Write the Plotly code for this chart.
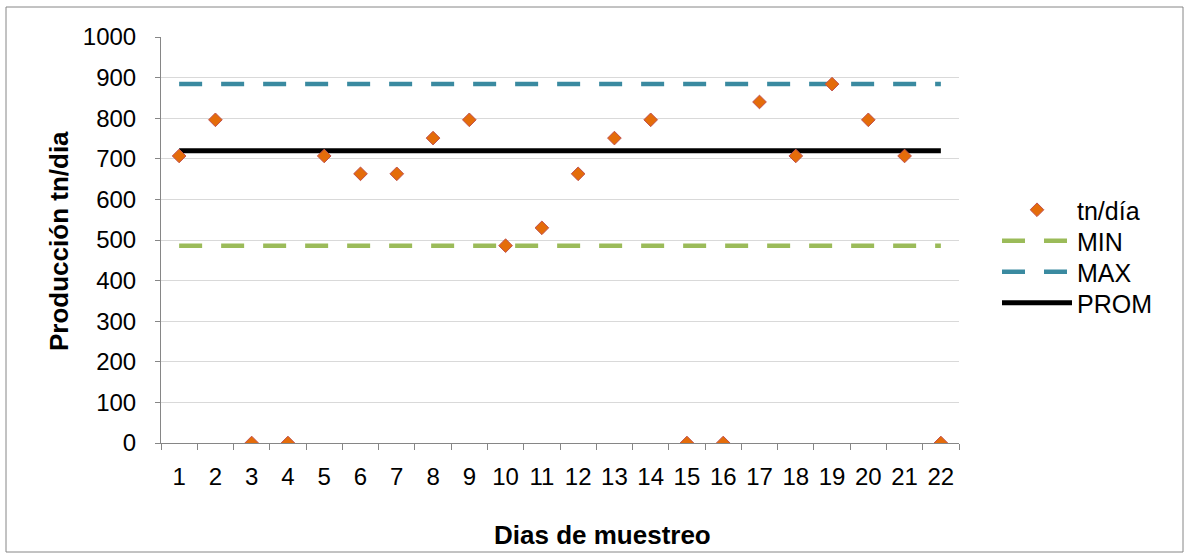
import plotly.graph_objects as go

# Daily production samples (tn/día) over 22 sampling days
dias = [str(d) for d in range(1, 23)]
produccion = [707, 796, 0, 0, 707, 663, 663, 751, 796, 486, 530,
              663, 751, 796, 0, 0, 840, 707, 884, 796, 707, 0]
valor_min = 486
valor_max = 884
valor_prom = 720
y_ticks = [0, 100, 200, 300, 400, 500, 600, 700, 800, 900, 1000]

FONT = "Liberation Sans, Arial, sans-serif"
TICK_SIZE = 24
LEGEND_SIZE = 25
TITLE_SIZE = 26

L, R, T, B = 161, 225, 37, 115
W, H = 1184, 558
pw, ph = W - L - R, H - T - B


def px_x(x):
    return (x - L) / pw


def px_y(y):
    return (H - B - y) / ph


DASH = "23px,19px"

fig = go.Figure()

fig.add_trace(go.Scatter(
    x=dias, y=[valor_min] * len(dias), mode="lines", name="MIN",
    line=dict(color="#9BBB59", width=4.5, dash=DASH), legend="legend2"))
fig.add_trace(go.Scatter(
    x=dias, y=[valor_max] * len(dias), mode="lines", name="MAX",
    line=dict(color="#3A8AA0", width=4.5, dash=DASH), legend="legend3"))
fig.add_trace(go.Scatter(
    x=dias, y=[valor_prom] * len(dias), mode="lines", name="PROM",
    line=dict(color="#000000", width=5), legend="legend4"))
fig.add_trace(go.Scatter(
    x=dias, y=produccion, mode="markers", name="tn/día",
    marker=dict(symbol="diamond", size=10.5, color="#E46C0A",
                line=dict(color="#C0504D", width=1)), legend="legend"))


def legend_box(row_y):
    return dict(x=px_x(997), y=px_y(row_y), xanchor="left", yanchor="middle",
                font=dict(family=FONT, size=LEGEND_SIZE, color="#000000"),
                itemwidth=70, bgcolor="rgba(0,0,0,0)", borderwidth=0)


fig.update_layout(
    width=W, height=H,
    margin=dict(l=L, r=R, t=T, b=B),
    paper_bgcolor="white", plot_bgcolor="white",
    font=dict(family=FONT, size=TICK_SIZE, color="#000000"),
    showlegend=True,
    legend=legend_box(210),
    legend2=legend_box(241),
    legend3=legend_box(272),
    legend4=legend_box(303),
    xaxis=dict(type="category", tickson="boundaries", ticks="outside",
               ticklen=6, tickcolor="#868686", showline=True,
               linecolor="#868686", linewidth=1, showgrid=False,
               zeroline=False, range=[-0.5, 21.5],
               tickfont=dict(family=FONT, size=TICK_SIZE),
               ticklabelstandoff=12),
    yaxis=dict(range=[0, 1000], tickvals=y_ticks, ticks="outside",
               ticklen=5, tickcolor="#868686", showline=True,
               linecolor="#868686", linewidth=1, showgrid=True,
               gridcolor="#D9D9D9", gridwidth=1, zeroline=False,
               tickfont=dict(family=FONT, size=TICK_SIZE),
               ticklabelstandoff=14),
    shapes=[dict(type="rect", xref="paper", yref="paper",
                 x0=px_x(6), x1=px_x(1183), y0=px_y(552), y1=px_y(7),
                 line=dict(color="#868686", width=1), layer="below")],
    annotations=[
        dict(text="<b>Producción tn/dia</b>", xref="paper", yref="paper",
             x=px_x(59), y=px_y(241), textangle=-90, showarrow=False,
             xanchor="center", yanchor="middle",
             font=dict(family=FONT, size=TITLE_SIZE)),
        dict(text="<b>Dias de muestreo</b>", xref="paper", yref="paper",
             x=px_x(602), y=px_y(535), showarrow=False,
             xanchor="center", yanchor="middle",
             font=dict(family=FONT, size=TITLE_SIZE)),
    ],
)

fig.write_html("out.html")
